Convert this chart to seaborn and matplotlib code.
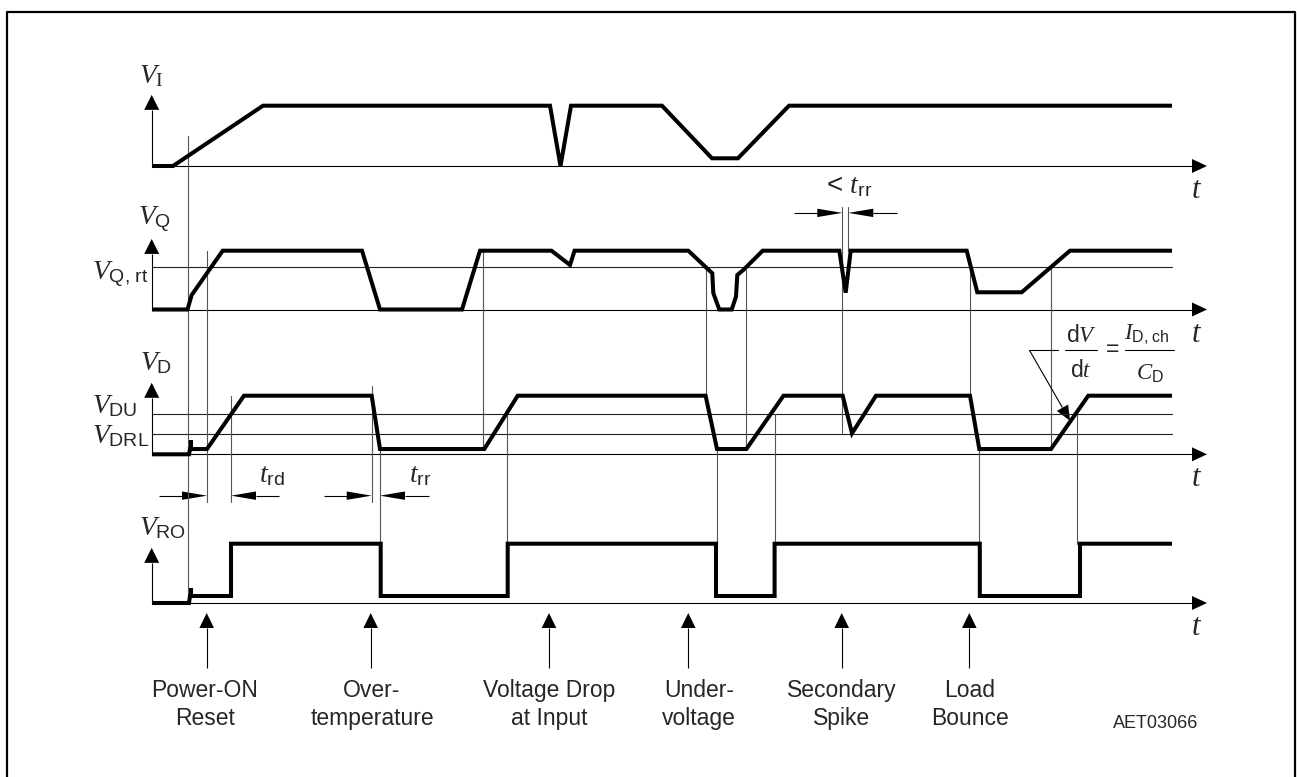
import numpy as np
import pandas as pd
import matplotlib
matplotlib.use('Agg')
import matplotlib.pyplot as plt
import seaborn as sns

sns.set_style('white')
plt.rcParams['font.family'] = ['Liberation Sans', 'DejaVu Sans']
plt.rcParams['mathtext.fontset'] = 'custom'
plt.rcParams['mathtext.rm'] = 'Liberation Sans'
plt.rcParams['mathtext.it'] = 'Liberation Serif:italic'
plt.rcParams['mathtext.sf'] = 'Liberation Serif'

# waveforms: time (same units as the x axis) and relative level (0 = axis, 1 = high)
vi_t = [152, 173, 263, 550, 560.5, 571, 662, 712, 738, 789, 1172]
vi_v = [0, 0, 1, 1, 0, 1, 1, 0.128, 0.128, 1, 1]

vq_t = [152, 187.5, 191.7, 222.7, 362, 380, 462, 480, 551.5, 570, 574.6, 688.3, 712.3, 713.3,
        719.3, 731.7, 736, 737.3, 743.3, 762.7, 839.3, 845.7, 850.7, 966.7, 977.3, 1021.7, 1070, 1172]
vq_v = [0, 0, 0.247, 1, 1, 0, 0, 1, 1, 0.757, 1, 1, 0.616, 0.28,
        0, 0, 0.218, 0.587, 0.672, 1, 1, 0.286, 1, 1, 0.293, 0.293, 1, 1]

vd_t = [152, 189, 190, 191, 191, 191, 207, 244, 371.7, 380, 484.3, 517.7, 705.6, 717,
        746.4, 783.5, 842.7, 852, 876, 970, 979.3, 1051, 1088.3, 1172]
vd_v = [0, 0, 0.09, 0.09, 0.244, 0.09, 0.09, 1, 1, 0.09, 0.09, 1, 1, 0.09,
        0.09, 1, 1, 0.358, 1, 1, 0.09, 0.09, 1, 1]

vro_t = [152, 189, 190, 191, 191, 191, 231, 231, 380.7, 380.7, 507.7, 507.7, 716, 716,
         774.6, 774.6, 979.8, 979.8, 1080, 1080, 1172]
vro_v = [0, 0, 0.118, 0.118, 0.253, 0.118, 0.118, 1, 1, 0.118, 0.118, 1, 1, 0.118,
         0.118, 1, 1, 0.118, 0.118, 1, 1]

vq_rt = 0.718
vdu = 0.688
vdrl = 0.341

# guide lines (time, from (panel, level), to (panel, level))
guide_t = [188.3, 207, 231, 371.7, 380, 482.7, 506.7, 705.7, 717, 745.7, 774.6,
           842.3, 848.3, 970, 979.3, 1051, 1077]
guide_from = [('VI', 0.5), ('VQ', 1), ('VD', 1), ('VD', 1.166), ('VD', 0.09), ('VQ', 1),
              ('VD', vdu), ('VQ', vq_rt), ('VD', 0.09), ('VQ', 0.672), ('VD', vdu),
              ('VQ', 1.743), ('VQ', 1.743), ('VQ', vq_rt), ('VD', 0.09), ('VQ', vq_rt), ('VD', vdu)]
guide_to = [('VRO', 0), ('VD', -0.809), ('VD', -0.809), ('VD', -0.809), ('VRO', 1), ('VD', 0.09),
            ('VRO', 1), ('VD', 1), ('VRO', 1), ('VD', 0.09), ('VRO', 1),
            ('VD', 0.358), ('VQ', 1), ('VD', 1), ('VRO', 1), ('VD', 0.09), ('VRO', 1)]

events = ['Power-ON\nReset', 'Over-\ntemperature', 'Voltage Drop\nat Input',
          'Under-\nvoltage', 'Secondary\nSpike', 'Load\nBounce']
event_t = [206.7, 370.7, 549, 688.3, 841.7, 969.3]
event_label_t = [205, 372, 549, 699, 842, 970]

# layout (pixels)
BASE = {'VI': 166, 'VQ': 309.5, 'VD': 454.3, 'VRO': 603}
HIGH = {'VI': 60.3, 'VQ': 58.8, 'VD': 58.6, 'VRO': 59.3}
TIP = {'VI': 1.18, 'VQ': 1.2, 'VD': 1.22, 'VRO': 0.93}
X0, X_END, X_TIP = 151.7, 1172, 1207


def ypos(panel, level):
    return BASE[panel] - level * HIGH[panel]


def arrow(ax, x0, y0, x1, y1, hl=15, hw=7.5, lw=0.8, color='black'):
    u = np.array([x1 - x0, y1 - y0], dtype=float)
    u /= np.hypot(*u)
    n = np.array([-u[1], u[0]])
    b = np.array([x1, y1]) - hl * u
    ax.plot([x0, b[0]], [y0, b[1]], color=color, lw=lw, solid_capstyle='butt')
    ax.fill([x1, b[0] + hw * n[0], b[0] - hw * n[0]],
            [y1, b[1] + hw * n[1], b[1] - hw * n[1]], color=color, lw=0)


fig = plt.figure(figsize=(12.97, 7.77), dpi=100)
ax = fig.add_axes([0, 0, 1, 1])

# frame
ax.plot([7, 7, 1295, 1295], [790, 12, 12, 790], color='black', lw=1.6)

thin = dict(color='#222222', lw=0.8)
guide = dict(color='#555555', lw=0.8)

# axes of each panel
for p in BASE:
    arrow(ax, X0, BASE[p], X_TIP, BASE[p], hl=15, hw=7)
    arrow(ax, X0, BASE[p], X0, ypos(p, TIP[p]), hl=15, hw=7.5)
    ax.text(1197, BASE[p] + 32, r'$t$', fontsize=22, ha='center', va='baseline')

# thresholds
for p, lv in [('VQ', vq_rt), ('VD', vdu), ('VD', vdrl)]:
    ax.plot([X0, X_END], [ypos(p, lv)] * 2, **thin)

# guides
for t, a, b in zip(guide_t, guide_from, guide_to):
    ax.plot([t, t], [ypos(*a), ypos(*b)], **guide)

# traces
traces = [('VI', vi_t, vi_v), ('VQ', vq_t, vq_v), ('VD', vd_t, vd_v), ('VRO', vro_t, vro_v)]
for p, t, v in traces:
    df = pd.DataFrame({'t': t, 'y': [ypos(p, lv) for lv in v]})
    sns.lineplot(data=df, x='t', y='y', sort=False, estimator=None, ax=ax,
                 color='black', lw=2.9, solid_joinstyle='miter', solid_capstyle='butt')
ax.set_xlim(0, 1297)
ax.set_ylim(777, 0)
ax.axis('off')

# signal names
fs = 20
ax.text(139, 83, r'$V_\mathsf{I}$', fontsize=fs, ha='left', va='baseline')
ax.text(138, 225, r'$V_\mathrm{Q}$', fontsize=fs, ha='left', va='baseline')
ax.text(140, 370, r'$V_\mathrm{D}$', fontsize=fs, ha='left', va='baseline')
ax.text(139, 535, r'$V_\mathrm{RO}$', fontsize=fs, ha='left', va='baseline')
ax.text(92, 280, r'$V_\mathrm{Q,\,rt}$', fontsize=fs, ha='left', va='baseline')
ax.text(92, 413, r'$V_\mathrm{DU}$', fontsize=fs, ha='left', va='baseline')
ax.text(92, 443, r'$V_\mathrm{DRL}$', fontsize=fs, ha='left', va='baseline')

# delay arrows
yrow = ypos('VD', -0.706)
arrow(ax, 159.3, yrow, 207, yrow, hl=25, hw=4.2)
arrow(ax, 279, yrow, 231, yrow, hl=25, hw=4.2)
arrow(ax, 324, yrow, 371.7, yrow, hl=25, hw=4.2)
arrow(ax, 429, yrow, 380, yrow, hl=25, hw=4.2)
ax.text(259, 482, r'$t_\mathrm{rd}$', fontsize=fs, ha='left', va='baseline')
ax.text(409, 482, r'$t_\mathrm{rr}$', fontsize=fs, ha='left', va='baseline')

yrow2 = ypos('VQ', 1.643)
arrow(ax, 794, yrow2, 842.3, yrow2, hl=25, hw=4.2)
arrow(ax, 897, yrow2, 848.3, yrow2, hl=25, hw=4.2)
ax.text(826, 193, r'< $t_\mathrm{rr}$', fontsize=fs, ha='left', va='baseline')

# dV/dt annotation
ffs = 16.5
ax.text(1081, 342, r'$\mathrm{d}V$', fontsize=ffs, ha='center', va='baseline')
ax.text(1081, 377, r'$\mathrm{d}t$', fontsize=ffs, ha='center', va='baseline')
ax.plot([1065, 1097], [350, 350], color='black', lw=0.8)
ax.text(1112.5, 349, '=', fontsize=ffs, ha='center', va='center')
ax.text(1124, 340, r'$I_\mathrm{D,\,ch}$', fontsize=ffs, ha='left', va='baseline')
ax.text(1150, 380, r'$C_\mathrm{D}$', fontsize=ffs, ha='center', va='baseline')
ax.plot([1125, 1174], [350, 350], color='black', lw=0.8)
ax.plot([1029.3, 1058.3], [350, 350], color='black', lw=0.8)
arrow(ax, 1029.3, 350, 1070, ypos('VD', 0.573), hl=15, hw=6.5)

# events
for t, lt, lab in zip(event_t, event_label_t, events):
    arrow(ax, t, 668, t, 613, hl=15, hw=7.3)
    l1, l2 = lab.split('\n')
    ax.text(lt, 697, l1, fontsize=16.5, ha='center', va='baseline')
    ax.text(lt, 725, l2, fontsize=16.5, ha='center', va='baseline')

ax.text(1156, 728, 'AET03066', fontsize=13, ha='center', va='baseline')

fig.savefig('out.png', dpi=100)
